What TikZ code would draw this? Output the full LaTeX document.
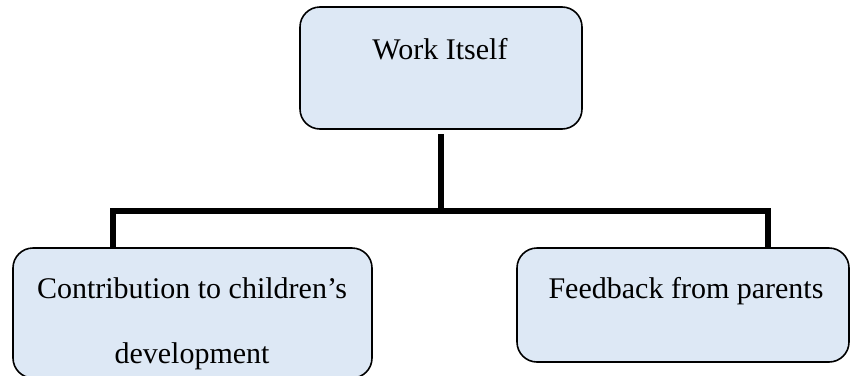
\documentclass[tikz,border=0pt]{standalone}
\usepackage{fontspec}
\setmainfont{Liberation Serif}
\definecolor{boxfill}{HTML}{DDE8F5}
\begin{document}
\begin{tikzpicture}[x=1pt,y=-1pt,
  box/.style={draw=black, line width=1.6pt, fill=boxfill, rounded corners=20pt,
    inner sep=0pt, outer sep=0pt},
  lbl/.style={anchor=base, inner sep=0pt, font=\fontsize{30}{36}\selectfont},
  conn/.style={draw=black, line width=6pt, line join=miter}]
  \useasboundingbox (0,0) rectangle (850,375);
  % boxes
  \node[box, minimum width=282pt, minimum height=122pt] (top) at (441,68) {};
  \node[box, minimum width=359pt, minimum height=130pt] (cl) at (192.5,313) {};
  \node[box, minimum width=332pt, minimum height=114pt] (fb) at (683,305) {};
  % labels
  \node[lbl] (toptext) at (440,59) {Work Itself};
  \node[lbl] (cltext1) at (192,298) {Contribution to children’s};
  \node[lbl] (cltext2) at (192,363) {development};
  \node[lbl] (fbtext) at (686,298) {Feedback from parents};
  % connectors
  \coordinate (lk) at (113,211);
  \coordinate (rk) at (768,211);
  \draw[conn, shorten <=5pt] (top.south) -- (top.south |- lk);
  \draw[conn] (lk |- cl.north) -- (lk) -- (rk) -- (rk |- fb.north);
\end{tikzpicture}
\end{document}
